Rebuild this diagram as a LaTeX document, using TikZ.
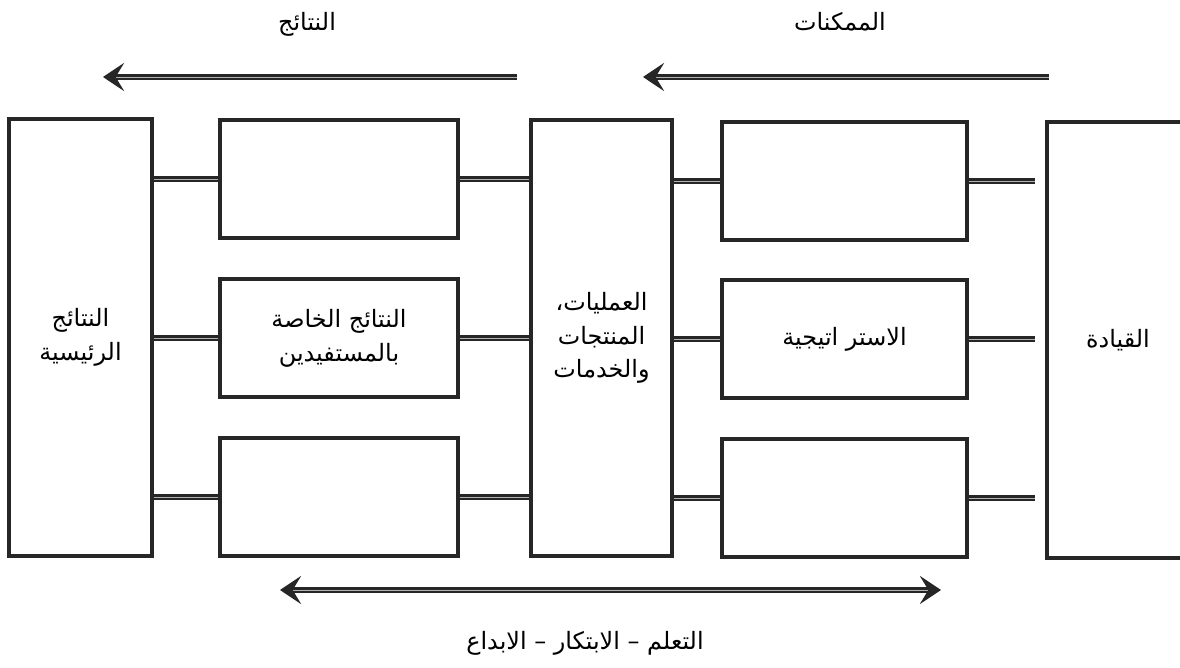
\documentclass[tikz,border=0pt]{standalone}
\usepackage{fontspec}
\newfontfamily\arabicfont[Script=Arabic]{DejaVu Sans}
\TeXXeTstate=1
\usetikzlibrary{arrows.meta}
\newcommand{\rl}[1]{\beginR #1\endR}

\begin{document}
\begin{tikzpicture}[x=0.025cm,y=-0.025cm,
    box/.style={draw=black!85,line width=2.4pt,align=center,inner sep=0pt,
      font=\arabicfont\fontsize{17}{24}\selectfont},
    link/.style={draw=black!85,line width=2pt,double=gray!60,double distance=0.6pt},
    tip/.tip={Stealth[length=15pt,width=20pt,inset=6pt]},
    flow/.style={link,-tip},
    head/.style={font=\arabicfont\fontsize{17}{20}\selectfont}]
    \useasboundingbox (0,0) rectangle (1180,668);
    \node[box,minimum width=3.575cm,minimum height=10.925cm](res) at (80.5,337.5){\rl{النتائج}\\\rl{الرئيسية}};
    \node[box,minimum width=5.95cm,minimum height=2.95cm](r1) at (339,179){};
    \node[box,minimum width=5.95cm,minimum height=2.95cm](r2) at (339,338){\rl{النتائج الخاصة}\\\rl{بالمستفيدين}};
    \node[box,minimum width=5.95cm,minimum height=2.95cm](r3) at (339,497){};
    \node[box,minimum width=3.525cm,minimum height=10.9cm](proc) at (601.5,338){\rl{العمليات،}\\\rl{المنتجات}\\\rl{والخدمات}};
    \node[box,minimum width=6.125cm,minimum height=2.95cm](e1) at (844.5,181){};
    \node[box,minimum width=6.125cm,minimum height=2.95cm](e2) at (844.5,339){\rl{الاستر اتيجية}};
    \node[box,minimum width=6.125cm,minimum height=2.95cm](e3) at (844.5,498){};
    \node[box,minimum width=3.55cm,minimum height=10.9cm](lead) at (1118,340){\rl{القيادة}};
    \foreach \i in {1,2,3}{
      \draw[link](r\i.west)--(r\i.west-|res.east);
      \draw[link](r\i.east)--(r\i.east-|proc.west);
      \draw[link](e\i.west)--(e\i.west-|proc.east);
      \draw[link,shorten >=0.25cm](e\i.east)--(e\i.east-|lead.west);
    }
    \coordinate(A) at (517,77);
    \coordinate(B) at (103,77);
    \coordinate(C) at (1049,77);
    \coordinate(D) at (643,77);
    \coordinate(E) at (280,590);
    \coordinate(F) at (941,590);
    \draw[flow](A)--(B);
    \draw[flow](C)--(D);
    \draw[link,tip-tip](E)--(F);
    \node[head](out) at (307,24){\rl{النتائج}};
    \node[head](enab) at (840,22){\rl{الممكنات}};
    \node[head](learn) at (585,643){\rl{التعلم – الابتكار – الابداع}};
\end{tikzpicture}
\end{document}
